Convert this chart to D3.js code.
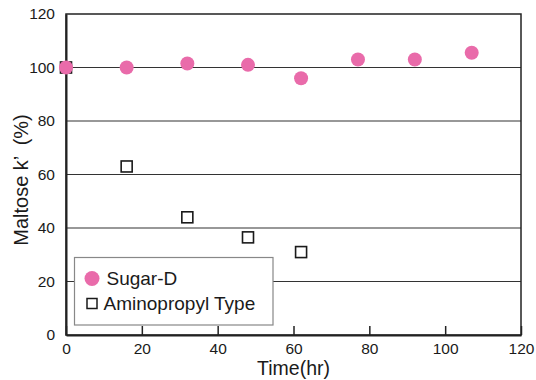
<!DOCTYPE html>
<html><head><meta charset="utf-8">
<script src="https://cdn.jsdelivr.net/npm/d3@7"></script>
<style>body{margin:0;background:#fff}svg{display:block}text{font-family:"Liberation Sans",Arial,sans-serif;fill:#1a1a1a}</style>
</head><body>
<svg id="c" width="536" height="380"></svg>
<script>
const sugarTime = [0, 16, 32, 48, 62, 77, 92, 107];
const sugarValue = [100, 100, 101.5, 101, 96, 103, 103, 105.5];
const aminoTime = [0, 16, 32, 48, 62];
const aminoValue = [100, 63, 44, 36.5, 31];
const xTicks = [0, 20, 40, 60, 80, 100, 120];
const yTicks = [0, 20, 40, 60, 80, 100, 120];
const seriesNames = ["Sugar-D", "Aminopropyl Type"];

const svg = d3.select("#c");
const L = 66, R = 521, T = 14, B = 335;
const x = d3.scaleLinear().domain([0, 120]).range([L, R]);
const y = d3.scaleLinear().domain([0, 120]).range([B, T]);
const pink = "#E96BAA";
const FF = "Liberation Sans, Arial, sans-serif";

// gridlines
svg.append("g").selectAll("line").data(yTicks.filter(d => d > 0 && d < 120)).join("line")
  .attr("x1", L).attr("x2", R).attr("y1", d => y(d)).attr("y2", d => y(d))
  .attr("stroke", "#333").attr("stroke-width", 1.2);

// frame
svg.append("rect").attr("x", L).attr("y", T).attr("width", R - L).attr("height", B - T)
  .attr("fill", "none").attr("stroke", "#222").attr("stroke-width", 1.5);

// x axis (inward ticks)
const xa = svg.append("g").attr("transform", `translate(0,${B})`)
  .call(d3.axisBottom(x).tickValues(xTicks).tickSizeInner(-9).tickSizeOuter(0).tickPadding(8));
xa.select(".domain").attr("stroke", "#222").attr("stroke-width", 2);
xa.selectAll(".tick line").attr("stroke", "#222").attr("stroke-width", 1.5);
xa.selectAll("text").attr("font-size", 15.5).attr("fill", "#1a1a1a").attr("font-family", FF);

// y axis
const ya = svg.append("g").attr("transform", `translate(${L},0)`)
  .call(d3.axisLeft(y).tickValues(yTicks).tickSize(0).tickPadding(11));
ya.select(".domain").attr("stroke", "#222").attr("stroke-width", 2);
ya.selectAll("text").attr("font-size", 15.5).attr("fill", "#1a1a1a").attr("font-family", FF);

// axis titles
svg.append("text").attr("x", x(60)).attr("y", 375).attr("text-anchor", "middle")
  .attr("font-size", 19.5).text("Time(hr)");
svg.append("text").attr("transform", `translate(28,180) rotate(-90)`).attr("text-anchor", "middle")
  .attr("font-size", 20).attr("xml:space", "preserve").text("Maltose k\u2019  (%)");

// points: squares first, then circles
const aminoData = aminoTime.map((t, i) => ({t, v: aminoValue[i]}));
const sugarData = sugarTime.map((t, i) => ({t, v: sugarValue[i]}));
const s = 11;
svg.append("g").selectAll("rect").data(aminoData).join("rect")
  .attr("x", d => x(d.t) - s / 2).attr("y", d => y(d.v) - s / 2)
  .attr("width", s).attr("height", s)
  .attr("fill", "#fff").attr("stroke", "#1a1a1a").attr("stroke-width", 1.6);
svg.append("g").selectAll("circle").data(sugarData).join("circle")
  .attr("cx", d => x(d.t)).attr("cy", d => y(d.v)).attr("r", 7).attr("fill", pink);

// legend
const lg = svg.append("g");
lg.append("rect").attr("x", 74.5).attr("y", 257.5).attr("width", 198.5).attr("height", 67.5)
  .attr("fill", "#fff").attr("stroke", "#888").attr("stroke-width", 1.2);
lg.append("circle").attr("cx", 92).attr("cy", 278.5).attr("r", 7.5).attr("fill", pink);
lg.append("text").attr("x", 106.5).attr("y", 285).attr("font-size", 19).text(seriesNames[0]);
lg.append("rect").attr("x", 87).attr("y", 298.5).attr("width", 10).attr("height", 10)
  .attr("fill", "#fff").attr("stroke", "#1a1a1a").attr("stroke-width", 1.5);
lg.append("text").attr("x", 103.5).attr("y", 310).attr("font-size", 19).text(seriesNames[1]);
</script>
</body></html>
